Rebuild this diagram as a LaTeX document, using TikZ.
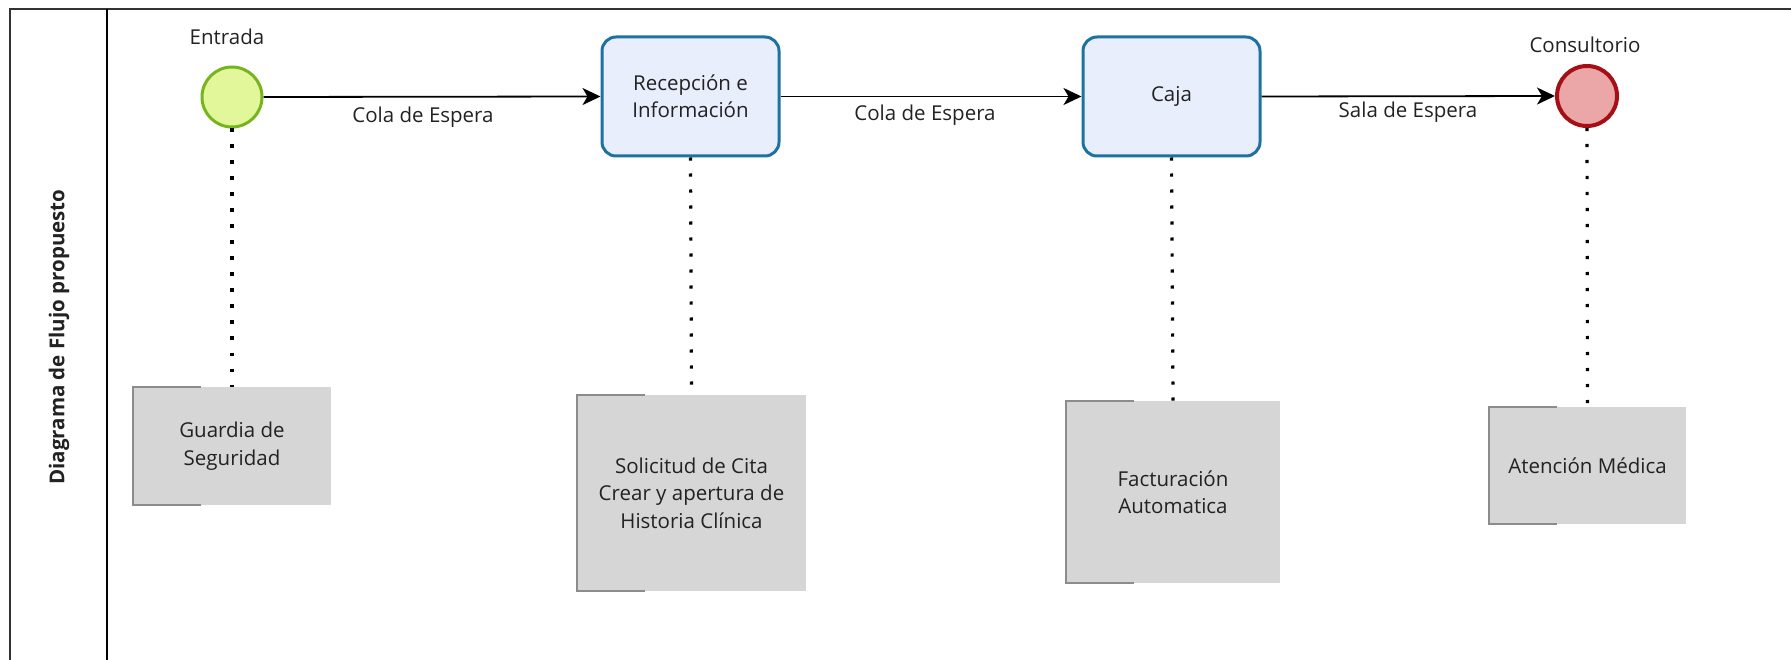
\documentclass[tikz,border=0pt]{standalone}
\usepackage{fontspec}
\setmainfont{Open Sans}
\usetikzlibrary{arrows.meta,positioning}
\definecolor{txt}{HTML}{222222}
\definecolor{startfill}{HTML}{E1F79A}
\definecolor{startdraw}{HTML}{78B41E}
\definecolor{endfill}{HTML}{EBA6A8}
\definecolor{enddraw}{HTML}{A50F15}
\definecolor{taskfill}{HTML}{E9EEFC}
\definecolor{taskdraw}{HTML}{1D72A0}
\definecolor{notefill}{HTML}{D6D6D6}
\definecolor{notedraw}{HTML}{8C8C8C}
\definecolor{frame}{HTML}{333333}
\tikzset{
  lbl/.style={font=\fontsize{20.5}{27.5}\selectfont, text=txt, inner sep=0pt},
  startev/.style={circle, minimum size=60pt, inner sep=0pt, fill=startfill, draw=startdraw, line width=3pt},
  endev/.style={circle, minimum size=60pt, inner sep=0pt, fill=endfill, draw=enddraw, line width=4pt},
  taskbox/.style={rectangle, rounded corners=14pt, minimum width=177pt, minimum height=119pt, fill=taskfill, draw=taskdraw, line width=3pt, lbl, align=center},
  notebox/.style={rectangle, fill=notefill, lbl, align=center},
  flow/.style={draw=black, line width=1.8pt, -{Stealth[length=18pt,width=17pt,inset=5pt]}},
  assoc/.style={draw=black, line width=3.2pt, dash pattern=on 3.2pt off 12.8pt},
  lane/.style={draw=frame, line width=2pt}
}
\newcommand{\bracketnote}[1]{%
  \draw[notedraw, line width=1.8pt] ([xshift=68pt]#1.north west) -- (#1.north west) -- (#1.south west) -- ([xshift=68pt]#1.south west);}
\begin{document}
\begin{tikzpicture}[x=1pt,y=-1pt]
\useasboundingbox (0,0) rectangle (1791,660);
% lane frame
\coordinate (tl) at (10,9);
\coordinate (tr) at (1791,9);
\coordinate (bl) at (10,660);
\coordinate (dt) at (107,9);
\coordinate (db) at (107,660);
\draw[lane] (tr) -- (tl) -- (bl);
\draw[lane, draw=black] (dt) -- (db);
\node[lbl, rotate=90, font=\fontsize{20.5}{24}\bfseries] (lanelbl) at (59,337) {Diagrama de Flujo propuesto};

% notes
\node[notebox, minimum width=198pt, minimum height=118pt] (n1) at (232,446) {Guardia de\\Seguridad};
\node[notebox, minimum width=229pt, minimum height=196pt] (n2) at (691.5,493) {Solicitud de Cita\\Crear y apertura de\\Historia Clínica};
\node[notebox, minimum width=214pt, minimum height=182pt] (n3) at (1173,492) {Facturación\\Automatica};
\node[notebox, minimum width=197pt, minimum height=117pt] (n4) at (1587.5,465.5) {Atención Médica};
\bracketnote{n1}
\bracketnote{n2}
\bracketnote{n3}
\bracketnote{n4}

% flow nodes
\node[startev] (start) at (232,97) {};
\node[taskbox] (recep) at (690.5,96.5) {Recepción e\\Información};
\node[taskbox] (caja) at (1171.5,96.5) {Caja};
\node[endev] (end) at (1587,96) {};

\node[lbl, anchor=base] (lstart) at (227,45) {Entrada};
\node[lbl, anchor=base] (lend) at (1585,53) {Consultorio};

% associations
\draw[assoc] (start.south) -- (n1.north);
\draw[assoc] (recep.south) -- (n2.north);
\draw[assoc] (caja.south) -- (n3.north);
\draw[assoc] (end.south) -- (n4.north);

% flows
\draw[flow] (start.east) -- (recep.west);
\draw[flow] (recep.east) -- (caja.west);
\draw[flow] (caja.east) -- (end.west);
\node[lbl, anchor=base] (f1) at (423,123) {Cola de Espera};
\node[lbl, anchor=base] (f2) at (925,121) {Cola de Espera};
\node[lbl, anchor=base] (f3) at (1408,118) {Sala de Espera};
\end{tikzpicture}
\end{document}
